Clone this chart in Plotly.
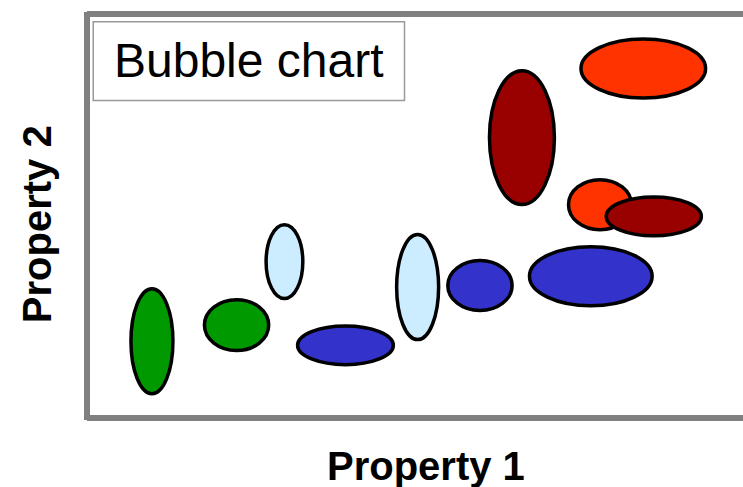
import plotly.graph_objects as go

# Bubble data: centre on each property axis plus the extent of each bubble
# along Property 1 and Property 2 (same units as the axes).
property_1 = [0.99, 2.28, 3.01, 3.94, 5.04, 5.99, 7.68, 6.63, 8.48, 7.82, 8.64]
property_2 = [1.90, 2.30, 3.87, 1.80, 3.24, 3.28, 3.51, 6.94, 8.65, 5.28, 4.99]
spread_1 = [0.64, 0.98, 0.56, 1.46, 0.64, 0.98, 1.87, 0.99, 1.90, 0.96, 1.45]
spread_2 = [2.60, 1.26, 1.83, 0.96, 2.60, 1.24, 1.46, 3.31, 1.46, 1.24, 0.96]
groups = ["A", "A", "B", "C", "B", "C", "C", "D", "E", "E", "D"]

title_text = "Bubble chart"
x_title = "Property 1"
y_title = "Property 2"

group_colors = {
    "A": "#009900",
    "B": "#CCECFF",
    "C": "#3333CC",
    "D": "#990000",
    "E": "#FF3300",
}

FONT = "Liberation Sans, Arial, sans-serif"
FRAME = "#808080"

shapes = []
for cx, cy, w, h, g in zip(property_1, property_2, spread_1, spread_2, groups):
    shapes.append(dict(
        type="circle", xref="x", yref="y",
        x0=cx - w / 2, x1=cx + w / 2, y0=cy - h / 2, y1=cy + h / 2,
        fillcolor=group_colors[g],
        line=dict(color="black", width=3.5),
        layer="above",
    ))

# grey frame on the left, top and bottom of the plotting area
for x0, y0, x1, y1 in [(0, -0.005, 0, 1.005), (0, 1, 1.05, 1), (0, 0, 1.05, 0)]:
    shapes.append(dict(
        type="line", xref="paper", yref="paper",
        x0=x0, y0=y0, x1=x1, y1=y1,
        line=dict(color=FRAME, width=6),
    ))

# title box
shapes.append(dict(
    type="rect", xref="paper", yref="paper",
    x0=0.0095, x1=0.484, y0=0.786, y1=0.981,
    fillcolor="white", line=dict(color="#999999", width=1.5),
))

fig = go.Figure()
# invisible anchor trace so the axes are established
fig.add_trace(go.Scatter(x=property_1, y=property_2, mode="markers",
                         marker=dict(opacity=0), hoverinfo="skip",
                         showlegend=False))

fig.update_layout(
    width=743, height=487,
    margin=dict(l=87, r=0, t=14, b=69),
    paper_bgcolor="white", plot_bgcolor="white",
    xaxis=dict(range=[0, 10], showgrid=False, zeroline=False,
               showticklabels=False, showline=False, fixedrange=True),
    yaxis=dict(range=[0, 10], showgrid=False, zeroline=False,
               showticklabels=False, showline=False, fixedrange=True),
    shapes=shapes,
    annotations=[
        dict(text=title_text, xref="paper", yref="paper",
             x=0.2465, y=0.884, xanchor="center", yanchor="middle",
             showarrow=False, font=dict(family=FONT, size=48, color="black")),
        dict(text="<b>" + x_title + "</b>", xref="paper", yref="paper",
             x=0.517, y=-0.12, xanchor="center", yanchor="middle",
             showarrow=False, font=dict(family=FONT, size=40, color="black")),
        dict(text="<b>" + y_title + "</b>", xref="paper", yref="paper",
             x=-0.077, y=0.481, xanchor="center", yanchor="middle",
             textangle=-90,
             showarrow=False, font=dict(family=FONT, size=40, color="black")),
    ],
)

fig.write_html("out.html")
